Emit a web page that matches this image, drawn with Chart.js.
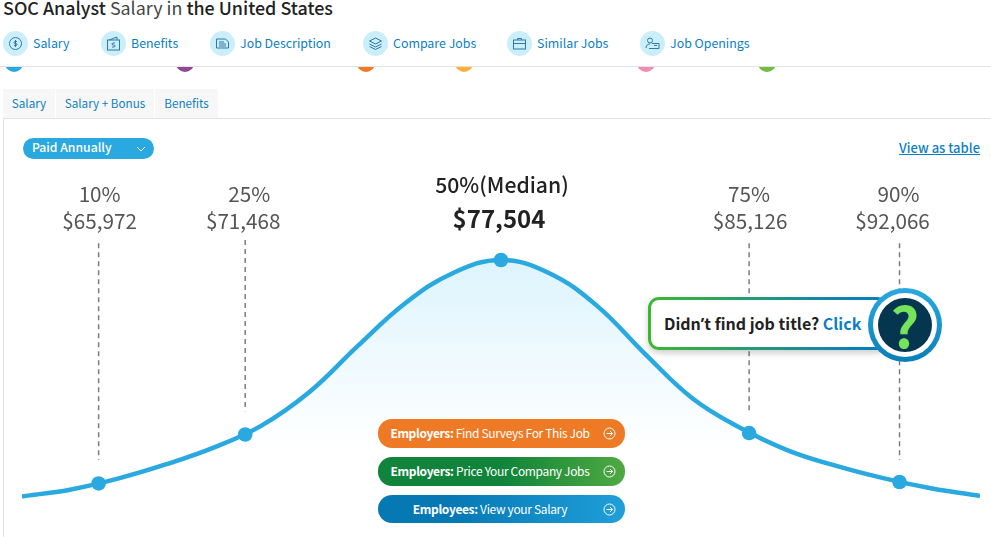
<!DOCTYPE html>
<html>
<head>
<meta charset="utf-8">
<title>SOC Analyst Salary</title>
<script src="https://cdn.jsdelivr.net/npm/chart.js@4"></script>
<style>
  html, body { margin: 0; padding: 0; background: #fff; width: 991px; height: 537px; overflow: hidden; }
  body { font-family: "Noto Sans CJK SC", "Open Sans", sans-serif; position: relative; color: #222; }
  h1 { position: absolute; left: 3px; top: -6px; margin: 0; font-size: 17.9px; line-height: 26px; font-weight: 400; color: #444; white-space: nowrap; }
  h1 b { color: #222; font-weight: 500; }
  .nav { position: absolute; top: 31px; height: 25px; line-height: 24px; font-size: 12.4px; color: #0d7fc2; white-space: nowrap; }
  .nav i { position: absolute; left: 0; top: 0; width: 25px; height: 25px; border-radius: 50%; background: #cbeefb; }
  .nav i svg { position: absolute; left: 5px; top: 5px; }
  .nav span { position: absolute; left: 30px; top: 0; }
  .rule { position: absolute; left: 0; top: 66px; width: 991px; height: 1px; background: #e3e3e3; }
  .dotclip { position: absolute; left: 0; top: 67px; width: 991px; height: 5px; overflow: hidden; }
  .dotclip i { position: absolute; top: -13px; width: 18px; height: 18px; border-radius: 50%; }
  .tab { position: absolute; top: 89px; height: 29px; line-height: 28px; text-align: center; font-size: 11.7px; color: #0d7fc2; background: #f7f7f7; }
  .panel { position: absolute; left: 3px; top: 118px; width: 988px; height: 419px; border-top: 1px solid #e3e3e3; border-left: 1px solid #e3e3e3; box-sizing: border-box; }
  .pill { position: absolute; left: 23px; top: 138px; width: 131px; height: 21px; line-height: 19px; border-radius: 11px; background: #2aa9e0; color: #fff; font-size: 12.2px; font-weight: 500; box-sizing: border-box; padding-left: 9px; }
  .pill svg { position: absolute; left: 113px; top: 8px; }
  .tablelink { position: absolute; right: 11px; top: 138px; line-height: 20px; font-size: 13px; font-weight: 500; color: #0d7fc2; text-decoration: underline; }
  canvas { position: absolute; left: 22px; top: 170px; }
  .btn { position: absolute; left: 378px; width: 247px; height: 29px; line-height: 28px; border-radius: 14px; color: #fff; font-size: 12px; letter-spacing: -0.35px; box-sizing: border-box; text-align: center; padding-right: 23px; white-space: nowrap; }
  .btn b { font-weight: 700; }
  .btn svg { position: absolute; left: 225px; top: 8px; }
  .callout { position: absolute; left: 648px; top: 297px; width: 240px; height: 53px; border-radius: 11px; padding: 3px; box-sizing: border-box;
    background: linear-gradient(90deg, #3cb82e 0%, #0d7fb8 85%); box-shadow: 0 3px 6px rgba(0,0,0,0.2); }
  .callout div { width: 100%; height: 100%; background: #fff; border-radius: 8px; font-size: 16px; font-weight: 700; line-height: 46px; padding-left: 13px; box-sizing: border-box; color: #222; white-space: nowrap; }
  .callout span { color: #0d7fc2; }
  .callout q { quotes: none; font-family: "Open Sans"; }
  .help { position: absolute; left: 868px; top: 288px; width: 74px; height: 74px; border-radius: 50%; background: linear-gradient(180deg, #2aa9e0, #0a7fb8); }
  .help u { position: absolute; left: 5px; top: 5px; width: 64px; height: 64px; border-radius: 50%; background: #fff; }
  .help em { position: absolute; left: 10px; top: 10px; width: 54px; height: 54px; border-radius: 50%; background: #04364f; color: #76e35a; font-style: normal; font-weight: 700; font-size: 56px; line-height: 52px; text-align: center; }
</style>
</head>
<body>
<h1><b>SOC Analyst</b> Salary in <b>the United States</b></h1>

<div class="nav" style="left:3px"><i><svg width="15" height="15" viewBox="0 0 15 15" fill="none" stroke="#2f78a8"><circle cx="7.5" cy="7.5" r="6"/><path d="M9 5.5H7a1 1 0 0 0 0 2h1a1 1 0 0 1 0 2H6M7.5 4v7"/></svg></i><span>Salary</span></div>
<div class="nav" style="left:101px"><i><svg width="15" height="15" viewBox="0 0 15 15" fill="none" stroke="#2f78a8"><rect x="1.5" y="4" width="12" height="10"/><path d="M3 4l8-3v3M9 7H7a1 1 0 0 0 0 2h1a1 1 0 0 1 0 2H6"/></svg></i><span>Benefits</span></div>
<div class="nav" style="left:210px"><i><svg width="15" height="15" viewBox="0 0 15 15" fill="none" stroke="#2f78a8"><path d="M1.5 3h9l3 3v6h-12zM4 6h5M4 8h7M4 10h7"/></svg></i><span>Job Description</span></div>
<div class="nav" style="left:363px"><i><svg width="15" height="15" viewBox="0 0 15 15" fill="none" stroke="#2f78a8"><path d="M1.5 5l6-3 6 3-6 3zM1.5 8l6 3 6-3M1.5 10.500l6 3 6-3"/></svg></i><span>Compare Jobs</span></div>
<div class="nav" style="left:507px"><i><svg width="15" height="15" viewBox="0 0 15 15" fill="none" stroke="#2f78a8"><rect x="1.500" y="4" width="12" height="9"/><path d="M5.500 4V2.500h4V4M1.500 7.500h12"/></svg></i><span>Similar Jobs</span></div>
<div class="nav" style="left:640px"><i><svg width="15" height="15" viewBox="0 0 15 15" fill="none" stroke="#2f78a8"><circle cx="5" cy="4.500" r="2.500"/><path d="M1 12c0-3 2-4 4-4M7 7.500h7v5H4M9 9.500h3"/></svg></i><span>Job Openings</span></div>

<div class="rule"></div>
<div class="dotclip">
  <i style="left:5px;background:#2aa9e0"></i>
  <i style="left:176px;background:#8e4a96"></i>
  <i style="left:357px;background:#ef7a25"></i>
  <i style="left:455px;background:#fbb03b"></i>
  <i style="left:637px;background:#ee8fb5"></i>
  <i style="left:758px;background:#72bc44"></i>
</div>

<div class="tab" style="left:3px;width:52px">Salary</div>
<div class="tab" style="left:56px;width:98px">Salary + Bonus</div>
<div class="tab" style="left:155px;width:63px">Benefits</div>
<div class="panel"></div>

<canvas id="salaryChart" width="958" height="367"></canvas>

<div class="pill">Paid Annually<svg width="10" height="6" viewBox="0 0 10 6" fill="none" stroke="#fff"><path d="M1 1l4 4 4-4"/></svg></div>
<div class="tablelink">View as table</div>

<div class="btn" style="top:419px;background:#ef7a25"><b>Employers:</b> Find Surveys For This Job<svg width="13" height="13" viewBox="0 0 13 13" fill="none" stroke="#fff"><circle cx="6.500" cy="6.500" r="5.500"/><path d="M3.500 6.500h6M7 4l2.500 2.500L7 9"/></svg></div>
<div class="btn" style="top:457px;background:linear-gradient(90deg,#10843a 50%,#4fa942)"><b>Employers:</b> Price Your Company Jobs<svg width="13" height="13" viewBox="0 0 13 13" fill="none" stroke="#fff"><circle cx="6.500" cy="6.500" r="5.500"/><path d="M3.500 6.500h6M7 4l2.500 2.500L7 9"/></svg></div>
<div class="btn" style="top:495px;height:28px;background:linear-gradient(90deg,#0679b5 30%,#1f9fd8)"><b>Employees:</b> View your Salary<svg width="13" height="13" viewBox="0 0 13 13" fill="none" stroke="#fff"><circle cx="6.500" cy="6.500" r="5.500"/><path d="M3.500 6.500h6M7 4l2.500 2.500L7 9"/></svg></div>

<div class="callout"><div>Didn<q>’</q>t find job title? <span>Click</span></div></div>
<div class="help"><u></u><em>?</em></div>

<script>
// curve, x is % across the plot, y is % of the peak
var curveX = [0, 5, 10, 15, 20, 25, 30, 35, 40, 45, 50, 55, 60, 65, 70, 75, 80, 85, 90, 95, 100];
var curveY = [1.5, 4.3, 8.9, 14.8, 21.8, 31, 45, 64, 82, 94.6, 100, 94.6, 81, 61, 42.3, 30, 20.6, 14.2, 9, 4.8, 1.7];

var percentiles = ["10%", "25%", "50%(Median)", "75%", "90%"];
var salaries = ["$65,972", "$71,468", "$77,504", "$85,126", "$92,066"];
var markerX = [8, 23.3, 50, 75.9, 91.6];
var markerY = [6.9, 27.3, 100, 27.9, 7.5];

// dashed guides: 10%, 25%, 75%, 90%
var guideX = [8, 23.3, 75.9, 91.6];
var guideTop = [107, 108.3, 107, 107];
var guideBottom = [16.7, 37, 37, 16.7];

function toPoints(xs, ys) {
  return xs.map(function(x, i) { return { x: x, y: ys[i] }; });
}

var datasets = [];

// markers on top
datasets.push({
  data: toPoints(markerX, markerY),
  showLine: false,
  pointRadius: 7.3,
  pointBackgroundColor: "#2aa9e0",
  pointBorderWidth: 0,
  clip: false,
  order: 0
});

datasets.push({
  data: toPoints(curveX, curveY),
  borderColor: "#2aa9e0",
  borderWidth: 4.5,
  tension: 0.4,
  pointRadius: 0,
  fill: "origin",
  backgroundColor: function(context) {
    var area = context.chart.chartArea;
    if (!area) return "#dff4fd";
    var g = context.chart.ctx.createLinearGradient(0, area.top + 24, 0, area.bottom - 50);
    g.addColorStop(0, "#ddf4fd");
    g.addColorStop(1, "#ffffff");
    return g;
  },
  order: 1
});

guideX.forEach(function(x, i) {
  datasets.push({
    data: [{ x: x, y: guideTop[i] }, { x: x, y: guideBottom[i] }],
    borderColor: "#7d7d7d",
    borderWidth: 1.5,
    borderDash: [5, 4],
    pointRadius: 0,
    fill: false,
    order: 2
  });
});

// percent and salary text above each marker
var labelsPlugin = {
  id: "percentileLabels",
  afterDatasetsDraw: function(chart) {
    var ctx = chart.ctx;
    var sx = chart.scales.x;
    var nudgeTop = [1, 4, 1, 0, -1];
    var nudgeBottom = [1, -2, -2, 1, -7];
    ctx.save();
    ctx.textAlign = "center";
    ctx.textBaseline = "middle";
    percentiles.forEach(function(p, i) {
      var px = sx.getPixelForValue(markerX[i]);
      if (i == 2) {
        ctx.fillStyle = "#222";
        ctx.font = '500 21.2px "Noto Sans CJK SC"';
        ctx.fillText(p, px + nudgeTop[i], 15);
        ctx.font = '700 24px "Noto Sans CJK SC"';
        ctx.fillText(salaries[i], px + nudgeBottom[i], 49);
      } else {
        ctx.fillStyle = "#555";
        ctx.font = '400 20.7px "Noto Sans CJK SC"';
        ctx.fillText(p, px + nudgeTop[i], 24);
        ctx.fillText(salaries[i], px + nudgeBottom[i], 51);
      }
    });
    ctx.restore();
  }
};

new Chart(document.getElementById("salaryChart"), {
  type: "line",
  data: { datasets: datasets },
  options: {
    responsive: false,
    animation: false,
    layout: { autoPadding: false, padding: { top: 66, bottom: 37, left: 0, right: 0 } },
    plugins: { legend: { display: false }, tooltip: { enabled: false } },
    events: [],
    scales: {
      x: { type: "linear", min: 0, max: 100, display: false },
      y: { min: 0, max: 110, display: false }
    }
  },
  plugins: [labelsPlugin]
});
</script>
</body>
</html>
